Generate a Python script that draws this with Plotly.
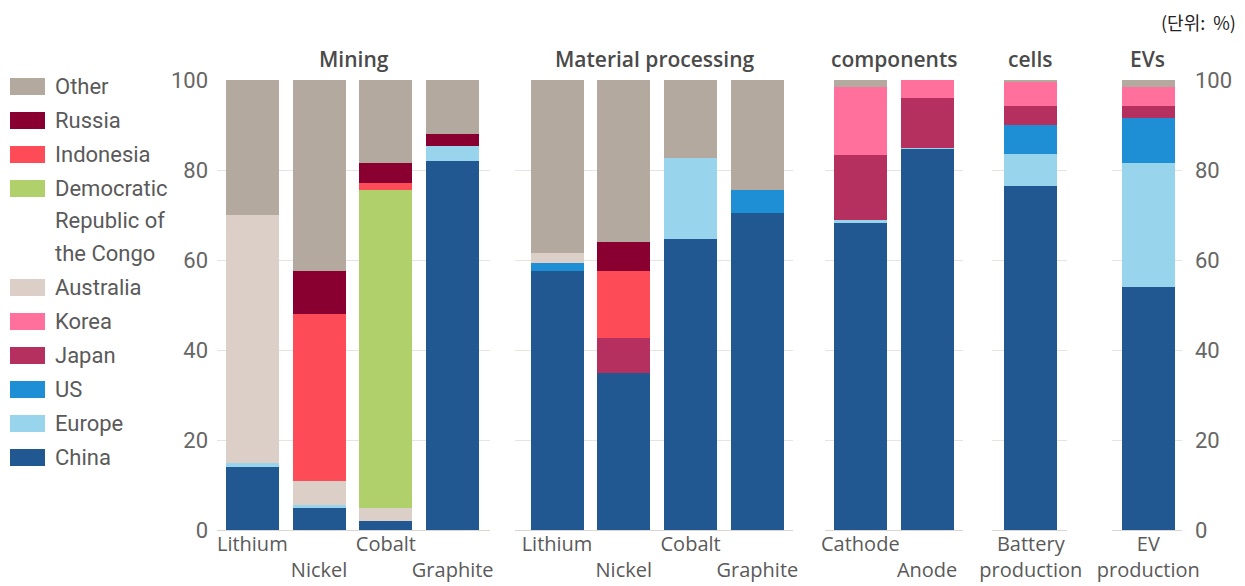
import plotly.graph_objects as go

W, H = 1245, 586

# ---------------- data ----------------
panel_titles = ["Mining", "Material processing", "components", "cells", "EVs"]
stages = ["Mining"] * 4 + ["Material processing"] * 4 + ["components"] * 2 + ["cells"] + ["EVs"]
items = ["Lithium", "Nickel", "Cobalt", "Graphite",
         "Lithium", "Nickel", "Cobalt", "Graphite",
         "Cathode", "Anode", "Battery production", "EV production"]
tick_labels = ["Lithium", "<br>Nickel", "Cobalt", "<br>Graphite",
               "Lithium", "<br>Nickel", "Cobalt", "<br>Graphite",
               "Cathode", "<br>Anode", "Battery<br>production", "EV<br>production"]

china =     [14.0, 5.0, 2.0, 82.0, 57.6, 35.0, 64.7, 70.5, 68.3, 84.7, 76.5, 54.1]
europe =    [1.0, 0.5, 0.0, 3.3, 0.0, 0.0, 17.9, 0.0, 0.7, 0.3, 7.1, 27.5]
us =        [0.0, 0.0, 0.0, 0.0, 1.7, 0.0, 0.0, 5.1, 0.0, 0.0, 6.4, 10.0]
japan =     [0.0, 0.0, 0.0, 0.0, 0.0, 7.7, 0.0, 0.0, 14.3, 11.1, 4.3, 2.7]
korea =     [0.0, 0.0, 0.0, 0.0, 0.0, 0.0, 0.0, 0.0, 15.2, 3.9, 5.3, 4.2]
australia = [55.0, 5.5, 3.0, 0.0, 2.2, 0.0, 0.0, 0.0, 0.0, 0.0, 0.0, 0.0]
drc =       [0.0, 0.0, 70.6, 0.0, 0.0, 0.0, 0.0, 0.0, 0.0, 0.0, 0.0, 0.0]
indonesia = [0.0, 37.0, 1.5, 0.0, 0.0, 14.9, 0.0, 0.0, 0.0, 0.0, 0.0, 0.0]
russia =    [0.0, 9.5, 4.4, 2.7, 0.0, 6.3, 0.0, 0.0, 0.0, 0.0, 0.0, 0.0]
other =     [30.0, 42.5, 18.5, 12.0, 38.5, 36.1, 17.4, 24.4, 1.5, 0.0, 0.4, 1.5]

series_names = ["China", "Europe", "US", "Japan", "Korea", "Australia",
                "Democratic<br>Republic of<br>the Congo", "Indonesia", "Russia", "Other"]
series_values = [china, europe, us, japan, korea, australia, drc, indonesia, russia, other]
series_colors = ["#215891", "#98d4ec", "#1e8fd5", "#b5305e", "#ff709c", "#dccfc8",
                 "#b0d06c", "#fd4b58", "#890030", "#b3a99f"]

y_ticks = [0, 20, 40, 60, 80, 100]

# ---------------- layout geometry ----------------
panel_px = [(217, 490), (515, 793), (825, 963), (992, 1067), (1112, 1182)]
first_center = [252.3, 557.0, 860.3, 1030.8, 1148.3]
unit_px = 66.8
bar_px = 53
y0_px, y100_px = 530, 80

FONT = "Roboto"
TXT = "#5a5a5a"
GRID = "#e8e3df"

fig = go.Figure()

for p, title in enumerate(panel_titles):
    idx = [i for i, s in enumerate(stages) if s == title]
    xs = [items[i] for i in idx]
    for name, vals, col in zip(series_names, series_values, series_colors):
        fig.add_trace(go.Bar(
            x=xs, y=[vals[i] for i in idx],
            name=name.replace("<br>", " "),
            marker=dict(color=col, line=dict(width=0)),
            width=bar_px / unit_px,
            xaxis=f"x{p + 1}", yaxis=f"y{p + 1}",
            showlegend=False,
        ))
    a, b = panel_px[p]
    c0 = first_center[p]
    sfx = "" if p == 0 else str(p + 1)
    fig.layout[f"xaxis{sfx}"] = dict(
        domain=[a / W, b / W], anchor=f"y{sfx}",
        type="category", categoryorder="array", categoryarray=xs,
        range=[(a - c0) / unit_px, (b - c0) / unit_px],
        tickvals=xs, ticktext=[tick_labels[i] for i in idx],
        tickangle=0, automargin=False,
        tickfont=dict(family="Open Sans", size=20, color=TXT),
        showgrid=False, showline=False, zeroline=False, ticks="",
        ticklabelstandoff=0, fixedrange=True,
    )
    ydict = dict(
        domain=[1 - y0_px / H, 1 - y100_px / H], anchor=f"x{sfx}",
        range=[0, 100], tickvals=y_ticks, automargin=False,
        showgrid=True, gridcolor=GRID, gridwidth=1,
        zeroline=True, zerolinecolor="#dcd6d2", zerolinewidth=1,
        showline=False, ticks="", fixedrange=True,
        tickfont=dict(family=FONT, size=22, color="#666666"),
        showticklabels=(p == 0 or p == len(panel_titles) - 1),
    )
    if p == len(panel_titles) - 1:
        ydict["side"] = "right"
        ydict["ticklabelstandoff"] = 12
    else:
        ydict["ticklabelstandoff"] = 8
    fig.layout[f"yaxis{sfx}"] = ydict

annotations = []
shapes = []

# panel titles
for p, title in enumerate(panel_titles):
    a, b = panel_px[p]
    annotations.append(dict(
        x=(a + b) / 2 / W, y=1 - 59 / H, xref="paper", yref="paper",
        text=title, showarrow=False, xanchor="center", yanchor="middle",
        font=dict(family="Open Sans", size=21, color="#4a4a4a", weight=600),
    ))

# manual legend (top = Other ... bottom = China)
cursor = 86.5
for name, col in zip(series_names[::-1], series_colors[::-1]):
    shapes.append(dict(
        type="rect", xref="paper", yref="paper",
        x0=10 / W, x1=45 / W, y0=1 - (cursor - 8.5) / H, y1=1 - (cursor + 8.5) / H,
        fillcolor=col, line=dict(width=0),
    ))
    lines = name.split("<br>")
    for k, ln in enumerate(lines):
        annotations.append(dict(
            x=53 / W, y=1 - (cursor + 32.5 * k) / H, xref="paper", yref="paper",
            text=ln, showarrow=False, xanchor="left", yanchor="middle",
            font=dict(family=FONT, size=22, color=TXT),
        ))
    cursor += 34 + 32.5 * (len(lines) - 1)

# unit label
annotations.append(dict(
    x=1238 / W, y=1 - 22 / H, xref="paper", yref="paper",
    text="(단위:  %)", showarrow=False, xanchor="right", yanchor="middle",
    font=dict(family="Noto Sans CJK KR", size=18, color="#222222"),
))

fig.update_layout(
    width=W, height=H,
    margin=dict(l=0, r=0, t=0, b=0, autoexpand=False),
    barmode="stack",
    plot_bgcolor="white", paper_bgcolor="white",
    showlegend=False,
    annotations=annotations, shapes=shapes,
    font=dict(family=FONT),
)

fig.write_html("out.html")
